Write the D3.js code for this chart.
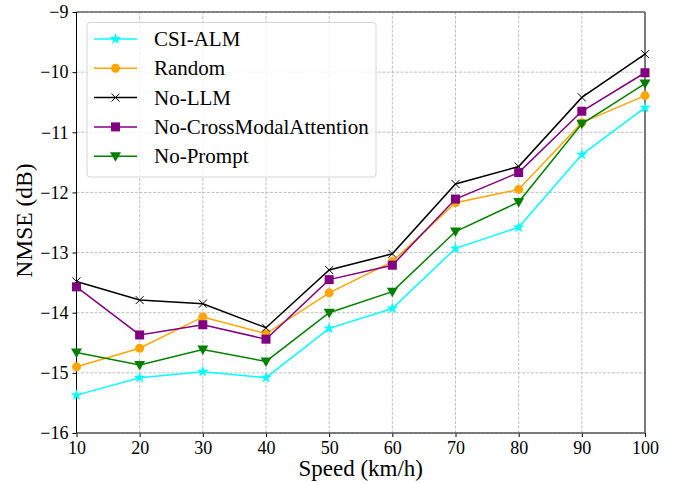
<!DOCTYPE html>
<html>
<head>
<meta charset="utf-8">
<script src="https://cdn.jsdelivr.net/npm/d3@7"></script>
<style>
	body { margin: 0; background: #fff; }
	svg text { font-family: "Liberation Serif", "Times New Roman", serif; }
</style>
</head>
<body>
<svg id="main-plot"></svg>
<script>
var speeds = [10, 20, 30, 40, 50, 60, 70, 80, 90, 100];
var csiAlm = [-15.37, -15.08, -14.98, -15.08, -14.26, -13.93, -12.93, -12.58, -11.37, -10.59];
var random = [-14.90, -14.59, -14.07, -14.35, -13.67, -13.15, -12.17, -11.95, -10.84, -10.39];
var noLlm = [-13.48, -13.79, -13.85, -14.25, -13.29, -13.02, -11.86, -11.57, -10.42, -9.70];
var noCrossModal = [-13.57, -14.37, -14.20, -14.44, -13.45, -13.21, -12.11, -11.67, -10.65, -10.01];
var noPrompt = [-14.66, -14.87, -14.61, -14.81, -14.00, -13.65, -12.65, -12.16, -10.86, -10.19];
var yTicks = [-16, -15, -14, -13, -12, -11, -10, -9];

window.onload = function init() {
	'use strict';

	var width = 673,
		height = 483,
		margin = {left: 76.5, right: 28, top: 12, bottom: 50},
		svg = d3.select('svg#main-plot').attr('width', width).attr('height', height),
		x = d3.scaleLinear().domain([10, 100]).range([margin.left, width - margin.right]),
		y = d3.scaleLinear().domain([-16, -9]).range([height - margin.bottom, margin.top]);

	var series = [
		{name: 'CSI-ALM', values: csiAlm, color: '#00ffff', marker: 'star'},
		{name: 'Random', values: random, color: '#ffa500', marker: 'circle'},
		{name: 'No-LLM', values: noLlm, color: '#000000', marker: 'x'},
		{name: 'No-CrossModalAttention', values: noCrossModal, color: '#800080', marker: 'square'},
		{name: 'No-Prompt', values: noPrompt, color: '#008000', marker: 'triangle'}
	];

	// grid
	var grid = svg.append('g');
	grid.selectAll('line.gx').data(speeds).enter().append('line')
		.attr('x1', function(d) { return x(d); }).attr('x2', function(d) { return x(d); })
		.attr('y1', y(-16)).attr('y2', y(-9))
		.attr('stroke', '#b0b0b0').attr('stroke-width', 0.8).attr('stroke-dasharray', '3,1.5');
	grid.selectAll('line.gy').data(yTicks).enter().append('line')
		.attr('y1', function(d) { return y(d); }).attr('y2', function(d) { return y(d); })
		.attr('x1', x(10)).attr('x2', x(100))
		.attr('stroke', '#b0b0b0').attr('stroke-width', 0.8).attr('stroke-dasharray', '3,1.5');

	// axes
	var fmt = function(d) { return d < 0 ? '\u2212' + Math.abs(d) : d; };
	var xAxis = svg.append('g').attr('transform', 'translate(0,' + y(-16) + ')')
		.call(d3.axisBottom(x).tickValues(speeds).tickSize(4).tickPadding(4));
	var yAxis = svg.append('g').attr('transform', 'translate(' + x(10) + ',0)')
		.call(d3.axisLeft(y).tickValues(yTicks).tickFormat(fmt).tickSize(4).tickPadding(4));
	[xAxis, yAxis].forEach(function(a) {
		a.select('.domain').remove();
		a.selectAll('text').attr('font-size', 18).attr('fill', '#000')
			.style('font-family', '"Liberation Serif", serif');
		a.selectAll('line').attr('stroke', '#000');
	});

	// spines
	svg.append('line').attr('x1', x(10)).attr('x2', x(100)).attr('y1', y(-9)).attr('y2', y(-9)).attr('stroke', '#222');
	svg.append('line').attr('x1', x(10)).attr('x2', x(10)).attr('y1', y(-9)).attr('y2', y(-16)).attr('stroke', '#000');
	svg.append('line').attr('x1', x(10)).attr('x2', x(100)).attr('y1', y(-16)).attr('y2', y(-16)).attr('stroke', '#555').attr('stroke-width', 1.5);
	svg.append('line').attr('x1', x(100)).attr('x2', x(100)).attr('y1', y(-9)).attr('y2', y(-16)).attr('stroke', '#555').attr('stroke-width', 1.5);

	// labels
	svg.append('text').attr('x', (x(10) + x(100)) / 2).attr('y', 476).attr('text-anchor', 'middle')
		.attr('font-size', 23).text('Speed (km/h)');
	svg.append('text').attr('transform', 'translate(32,220.5) rotate(-90)').attr('text-anchor', 'middle')
		.attr('font-size', 23.5).text('NMSE (dB)');

	function drawMarker(g, type, color, cx, cy) {
		if (type === 'circle') {
			g.append('circle').attr('cx', cx).attr('cy', cy).attr('r', 4.5).attr('fill', color);
		} else if (type === 'square') {
			g.append('rect').attr('x', cx - 4.5).attr('y', cy - 4.5).attr('width', 9).attr('height', 9).attr('fill', color);
		} else if (type === 'triangle') {
			g.append('path').attr('d', 'M' + (cx - 5.5) + ',' + (cy - 4) + 'L' + (cx + 5.5) + ',' + (cy - 4) + 'L' + cx + ',' + (cy + 5.5) + 'Z').attr('fill', color);
		} else if (type === 'star') {
			g.append('path').attr('d', d3.symbol().type(d3.symbolStar).size(42)()).attr('transform', 'translate(' + cx + ',' + cy + ')').attr('fill', color);
		} else if (type === 'x') {
			g.append('path').attr('d', 'M' + (cx - 4) + ',' + (cy - 4) + 'L' + (cx + 4) + ',' + (cy + 4) + 'M' + (cx - 4) + ',' + (cy + 4) + 'L' + (cx + 4) + ',' + (cy - 4))
				.attr('stroke', color).attr('stroke-width', 1);
		}
	}

	var line = d3.line().x(function(d, i) { return x(speeds[i]); }).y(function(d) { return y(d); });
	var plot = svg.append('g');
	series.forEach(function(s) {
		var g = plot.append('g');
		g.append('path').datum(s.values).attr('d', line).attr('fill', 'none')
			.attr('stroke', s.color).attr('stroke-width', 1.5);
		s.values.forEach(function(v, i) { drawMarker(g, s.marker, s.color, x(speeds[i]), y(v)); });
	});

	// legend
	var legend = svg.append('g');
	legend.append('rect').attr('x', 87).attr('y', 22.5).attr('width', 289).attr('height', 154.5).attr('rx', 3)
		.attr('fill', 'rgba(255,255,255,0.8)').attr('stroke', '#d5d5d5');
	series.forEach(function(s, i) {
		var ly = 39 + i * 29.3;
		var g = legend.append('g');
		g.append('line').attr('x1', 94).attr('x2', 137).attr('y1', ly).attr('y2', ly).attr('stroke', s.color).attr('stroke-width', 1.5);
		drawMarker(g, s.marker, s.color, 115.5, ly);
		g.append('text').attr('x', 154).attr('y', ly + 7).attr('font-size', 21).text(s.name);
	});
};
</script>
</body>
</html>
